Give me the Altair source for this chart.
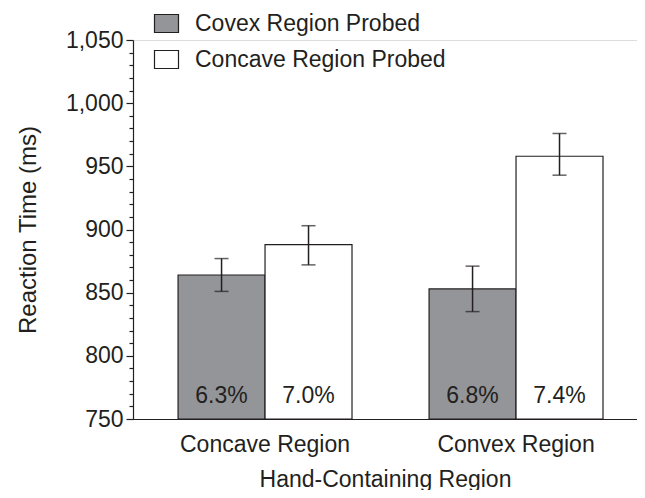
import altair as alt
import pandas as pd

regions = ["Concave Region", "Convex Region"]
probes = ["Covex Region Probed", "Concave Region Probed"]
rt_convex_probed = [864, 853]
rt_concave_probed = [888, 958]
lo_convex_probed = [851, 835]
hi_convex_probed = [877, 871]
lo_concave_probed = [872, 943]
hi_concave_probed = [903, 976]
err_convex_probed = ["6.3%", "6.8%"]
err_concave_probed = ["7.0%", "7.4%"]
major_ticks = [750, 800, 850, 900, 950, 1000, 1050]
minor_ticks = [760, 770, 780, 790, 810, 820, 830, 840, 860, 870, 880, 890, 910, 920, 930, 940,
               960, 970, 980, 990, 1010, 1020, 1030, 1040]

rows = []
for i, r in enumerate(regions):
    rows.append(dict(region=r, probe=probes[0], rt=rt_convex_probed[i],
                     lo=lo_convex_probed[i], hi=hi_convex_probed[i], pct=err_convex_probed[i], base=750))
    rows.append(dict(region=r, probe=probes[1], rt=rt_concave_probed[i],
                     lo=lo_concave_probed[i], hi=hi_concave_probed[i], pct=err_concave_probed[i], base=750))
df = pd.DataFrame(rows)

INK = "#231f20"
FONT = "Liberation Sans"

x = alt.X("region:N", sort=regions,
          scale=alt.Scale(paddingInner=0.307, paddingOuter=0.1575, align=0.57),
          axis=alt.Axis(title="Hand-Containing Region", labelAngle=0, tickSize=0, ticks=False,
                        labelBaseline="alphabetic", labelPadding=32, labelFontSize=23,
                        titleFontSize=23, titleBaseline="alphabetic", titleY=67,
                        domainColor=INK, domainWidth=1.2, labelColor=INK, titleColor=INK,
                        titleFontWeight="normal", labelLimit=400, grid=False))
xo = alt.XOffset("probe:N", sort=probes, scale=alt.Scale(paddingInner=0, paddingOuter=0))

yscale = alt.Scale(domain=[750, 1050], nice=False, zero=False)
yaxis = alt.Axis(title="Reaction Time (ms)", values=major_ticks, format=",d",
                 labelOverlap=False, tickSize=7,
                 tickColor=INK, tickWidth=1.2, domainColor=INK, domainWidth=1.2,
                 labelPadding=3, labelFontSize=23, labelColor=INK, grid=False,
                 titleFontSize=24, titleColor=INK, titleFontWeight="normal",
                 titleX=-105, titleY=189.5, titleAngle=270,
                 titleBaseline="middle", titleAlign="center")
yaxis_minor = alt.Axis(title=None, values=minor_ticks, labels=False, domain=False, orient="left",
                       tickSize=4, tickColor=INK, tickWidth=1.2, grid=False, offset=0)

bars = alt.Chart(df).mark_bar(stroke=INK, strokeWidth=1.2).encode(
    x=x, xOffset=xo,
    y=alt.Y("rt:Q", scale=yscale, axis=yaxis),
    y2=alt.Y2("base:Q"),
    fill=alt.Fill("probe:N", sort=probes,
                  scale=alt.Scale(domain=probes, range=["#939598", "#ffffff"]),
                  legend=alt.Legend(title=None, orient="none", legendX=22, legendY=-28,
                                    symbolType="M-1.2,-0.9H1.2V0.9H-1.2Z", symbolSize=400,
                                    symbolStrokeColor=INK, symbolStrokeWidth=1.2,
                                    labelFontSize=23, labelColor=INK, labelOffset=17,
                                    labelLimit=500, rowPadding=12, padding=0, labelFont=FONT)),
)

rules = alt.Chart(df).mark_rule(color=INK, strokeWidth=1.5).encode(
    x=x, xOffset=xo, y=alt.Y("lo:Q", scale=yscale, axis=yaxis), y2="hi:Q")

caps_lo = alt.Chart(df).mark_tick(color=INK, thickness=1.5, size=14, orient="horizontal").encode(
    x=x, xOffset=xo, y=alt.Y("lo:Q", scale=yscale, axis=yaxis))
caps_hi = alt.Chart(df).mark_tick(color=INK, thickness=1.5, size=14, orient="horizontal").encode(
    x=x, xOffset=xo, y=alt.Y("hi:Q", scale=yscale, axis=yaxis))

labels = alt.Chart(df).mark_text(fontSize=23, color=INK, baseline="alphabetic", dy=-16, font=FONT).encode(
    x=x, xOffset=xo, y=alt.Y("base:Q", scale=yscale, axis=yaxis), text="pct:N")

main = alt.layer(bars, rules, caps_lo, caps_hi, labels)

minor = alt.Chart(df).mark_text(opacity=0, text="").encode(
    x=x, y=alt.Y("base:Q", scale=yscale, axis=yaxis_minor))

chart = alt.layer(main, minor).resolve_axis(y="independent").properties(
    width=504, height=379,
    autosize=alt.AutoSizeParams(type="none"),
    padding={"left": 125, "top": 32, "right": 0, "bottom": 71},
).configure_view(strokeOpacity=0, strokeWidth=0).configure(font=FONT).configure_axis(grid=False)

chart.save("out.html", embed_options={"renderer": "svg", "actions": False})
